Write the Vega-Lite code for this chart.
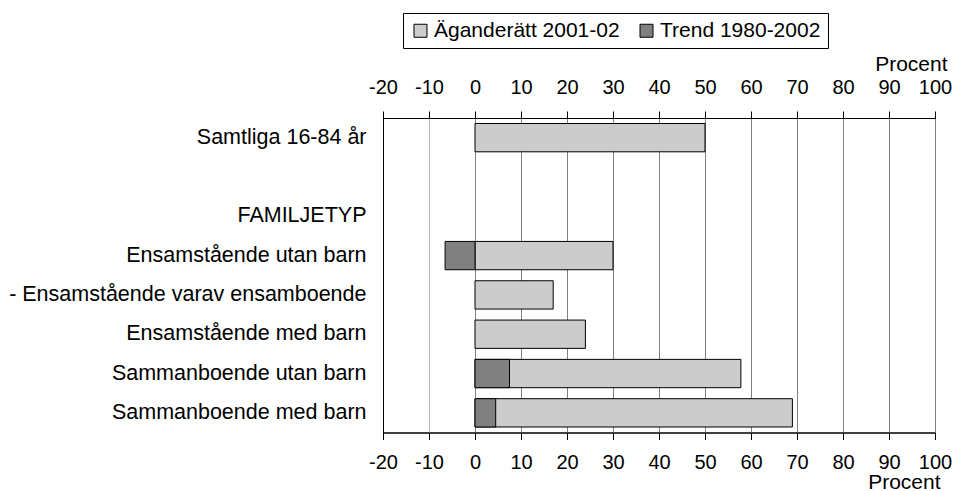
{
  "$schema": "https://vega.github.io/schema/vega-lite/v6.json",
  "width": 552,
  "height": 314.5,
  "autosize": {"type": "none"},
  "padding": {"left": 383, "top": 118, "right": 18, "bottom": 58.5},
  "background": "white",
  "config": {
    "font": "Liberation Sans",
    "view": {"stroke": "black", "strokeWidth": 1},
    "axis": {
      "labelFont": "Liberation Sans",
      "labelFontSize": 20,
      "labelColor": "black",
      "titleFont": "Liberation Sans",
      "titleFontSize": 21,
      "titleFontWeight": "normal",
      "titleColor": "black",
      "domainColor": "black",
      "tickColor": "black"
    }
  },
  "data": {
    "values": [
      {"kategori": "Samtliga 16-84 år", "serie": "Äganderätt 2001-02", "procent": 50},
      {"kategori": "Ensamstående utan barn", "serie": "Äganderätt 2001-02", "procent": 30},
      {"kategori": "- Ensamstående varav ensamboende", "serie": "Äganderätt 2001-02", "procent": 17},
      {"kategori": "Ensamstående med barn", "serie": "Äganderätt 2001-02", "procent": 24},
      {"kategori": "Sammanboende utan barn", "serie": "Äganderätt 2001-02", "procent": 57.8},
      {"kategori": "Sammanboende med barn", "serie": "Äganderätt 2001-02", "procent": 69},
      {"kategori": "Ensamstående utan barn", "serie": "Trend 1980-2002", "procent": -6.5},
      {"kategori": "Sammanboende utan barn", "serie": "Trend 1980-2002", "procent": 7.5},
      {"kategori": "Sammanboende med barn", "serie": "Trend 1980-2002", "procent": 4.5}
    ]
  },
  "encoding": {
    "y": {
      "field": "kategori",
      "type": "nominal",
      "scale": {
        "domain": ["Samtliga 16-84 år", " ", "FAMILJETYP", "Ensamstående utan barn", "- Ensamstående varav ensamboende", "Ensamstående med barn", "Sammanboende utan barn", "Sammanboende med barn"],
        "paddingInner": 0.28,
        "paddingOuter": 0.14
      },
      "axis": {
        "title": null,
        "ticks": false,
        "domain": true,
        "labelPadding": 17,
        "labelLimit": 0,
        "labelFontSize": 21.5,
        "grid": false
      }
    },
    "color": {
      "field": "serie",
      "type": "nominal",
      "scale": {"domain": ["Äganderätt 2001-02", "Trend 1980-2002"], "range": ["#cccccc", "#808080"]},
      "legend": {
        "title": null,
        "orient": "none",
        "legendX": 20,
        "legendY": -105,
        "direction": "horizontal",
        "strokeColor": "black",
        "fillColor": "white",
        "padding": 7,
        "symbolType": "square",
        "symbolSize": 169,
        "symbolStrokeColor": "black",
        "symbolStrokeWidth": 1,
        "symbolOpacity": 1,
        "labelFont": "Liberation Sans",
        "labelFontSize": 21,
        "labelColor": "black",
        "labelOffset": 3,
        "labelLimit": 0,
        "columnPadding": 16
      }
    }
  },
  "layer": [
    {
      "transform": [{"filter": "datum.serie === 'Äganderätt 2001-02'"}],
      "mark": {"type": "bar", "stroke": "black", "strokeWidth": 1},
      "encoding": {
        "x": {
          "field": "procent",
          "type": "quantitative",
          "stack": null,
          "scale": {"domain": [-20, 100], "nice": false, "zero": false},
          "axis": {
            "orient": "top",
            "values": [-20, -10, 0, 10, 20, 30, 40, 50, 60, 70, 80, 90, 100],
            "labelExpr": "'' + datum.value",
            "labelOverlap": false,
            "labelFlush": false,
            "title": "Procent",
            "titleX": 564,
            "titleY": -48,
            "titleAlign": "right",
            "titleBaseline": "alphabetic",
            "tickSize": 7,
            "labelPadding": 14,
            "grid": true,
            "gridColor": {"condition": {"test": "datum.value === -10", "value": "#b4b4b4"}, "value": "#808080"},
            "gridWidth": 1,
            "gridOpacity": 1
          }
        }
      }
    },
    {
      "transform": [{"filter": "datum.serie === 'Trend 1980-2002'"}],
      "mark": {"type": "bar", "stroke": "black", "strokeWidth": 1},
      "encoding": {
        "x": {
          "field": "procent",
          "type": "quantitative",
          "stack": null,
          "scale": {"domain": [-20, 100], "nice": false, "zero": false},
          "axis": {
            "orient": "bottom",
            "values": [-20, -10, 0, 10, 20, 30, 40, 50, 60, 70, 80, 90, 100],
            "labelExpr": "'' + datum.value",
            "labelOverlap": false,
            "labelFlush": false,
            "title": "Procent",
            "titleX": 557,
            "titleY": 56,
            "titleAlign": "right",
            "titleBaseline": "alphabetic",
            "tickSize": 7,
            "labelPadding": 13,
            "grid": false
          }
        }
      }
    }
  ],
  "resolve": {"axis": {"x": "independent"}}
}
